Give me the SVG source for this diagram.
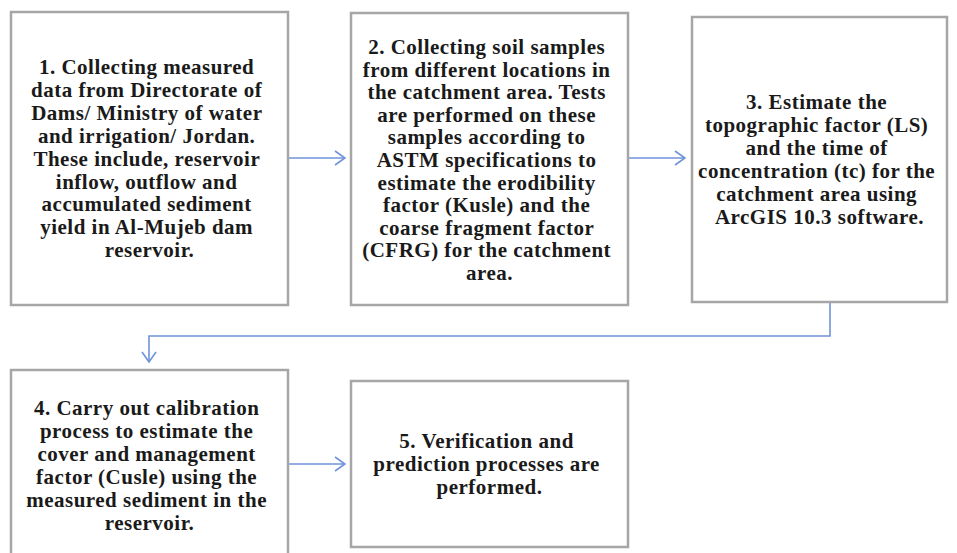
<svg xmlns="http://www.w3.org/2000/svg" width="957" height="553" viewBox="0 0 957 553">
<defs>
<style>
.box{fill:#ffffff;stroke:#a6a6a6;stroke-width:2.5}
.t{font-family:"Liberation Serif","Times New Roman",serif;font-weight:bold;font-size:21px;letter-spacing:0.5px;fill:#1a1a1a;text-anchor:middle}
.c{fill:none;stroke:#6f93d8;stroke-width:1.6}
</style>
<marker id="ah" viewBox="0 0 12 16" refX="11" refY="8" markerWidth="12" markerHeight="16" markerUnits="userSpaceOnUse" orient="auto">
<path d="M1,1 L11,8 L1,15" fill="none" stroke="#6f93d8" stroke-width="1.6"/>
</marker>
</defs>
<rect width="957" height="553" fill="#ffffff"/>
<g id="connectors">
<line class="c" x1="288" y1="158" x2="345" y2="158" marker-end="url(#ah)"/>
<line class="c" x1="628" y1="158" x2="685" y2="158" marker-end="url(#ah)"/>
<polyline class="c" points="830,303 830,336 149,336 149,362" marker-end="url(#ah)"/>
<line class="c" x1="288" y1="464" x2="345" y2="464" marker-end="url(#ah)"/>
</g>
<g id="node1">
<rect class="box" x="11" y="12" width="277" height="293"/>
<text class="t" x="149.5" y="74">
<tspan x="149.5">1. Collecting measured</tspan>
<tspan x="149.5" dy="22.9">data from Directorate of</tspan>
<tspan x="149.5" dy="22.9">Dams/ Ministry of water</tspan>
<tspan x="149.5" dy="22.9">and irrigation/ Jordan.</tspan>
<tspan x="149.5" dy="22.9">These include, reservoir</tspan>
<tspan x="149.5" dy="22.9">inflow, outflow and</tspan>
<tspan x="149.5" dy="22.9">accumulated sediment</tspan>
<tspan x="149.5" dy="22.9">yield in Al-Mujeb dam</tspan>
<tspan x="149.5" dy="22.9">reservoir.</tspan>
</text>
</g>
<g id="node2">
<rect class="box" x="351" y="13" width="277" height="292"/>
<text class="t" x="489.5" y="54">
<tspan x="489.5">2. Collecting soil samples</tspan>
<tspan x="489.5" dy="22.6">from different locations in</tspan>
<tspan x="489.5" dy="22.6">the catchment area. Tests</tspan>
<tspan x="489.5" dy="22.6">are performed on these</tspan>
<tspan x="489.5" dy="22.6">samples according to</tspan>
<tspan x="489.5" dy="22.6">ASTM specifications to</tspan>
<tspan x="489.5" dy="22.6">estimate the erodibility</tspan>
<tspan x="489.5" dy="22.6">factor (Kusle) and the</tspan>
<tspan x="489.5" dy="22.6">coarse fragment factor</tspan>
<tspan x="489.5" dy="22.6">(CFRG) for the catchment</tspan>
<tspan x="489.5" dy="22.6">area.</tspan>
</text>
</g>
<g id="node3">
<rect class="box" x="692" y="17" width="255" height="285"/>
<text class="t" x="819.5" y="109">
<tspan x="819.5">3. Estimate the</tspan>
<tspan x="819.5" dy="23">topographic factor (LS)</tspan>
<tspan x="819.5" dy="23">and the time of</tspan>
<tspan x="819.5" dy="23">concentration (tc) for the</tspan>
<tspan x="819.5" dy="23">catchment area using</tspan>
<tspan x="819.5" dy="23">ArcGIS 10.3 software.</tspan>
</text>
</g>
<g id="node4">
<rect class="box" x="11" y="370" width="277" height="195"/>
<text class="t" x="149.5" y="415">
<tspan x="149.5">4. Carry out calibration</tspan>
<tspan x="149.5" dy="22.9">process to estimate the</tspan>
<tspan x="149.5" dy="22.9">cover and management</tspan>
<tspan x="149.5" dy="22.9">factor (Cusle) using the</tspan>
<tspan x="149.5" dy="22.9">measured sediment in the</tspan>
<tspan x="149.5" dy="22.9">reservoir.</tspan>
</text>
</g>
<g id="node5">
<rect class="box" x="351" y="381" width="277" height="166"/>
<text class="t" x="489.5" y="448">
<tspan x="489.5">5. Verification and</tspan>
<tspan x="489.5" dy="23.2">prediction processes are</tspan>
<tspan x="489.5" dy="23.2">performed.</tspan>
</text>
</g>
</svg>
